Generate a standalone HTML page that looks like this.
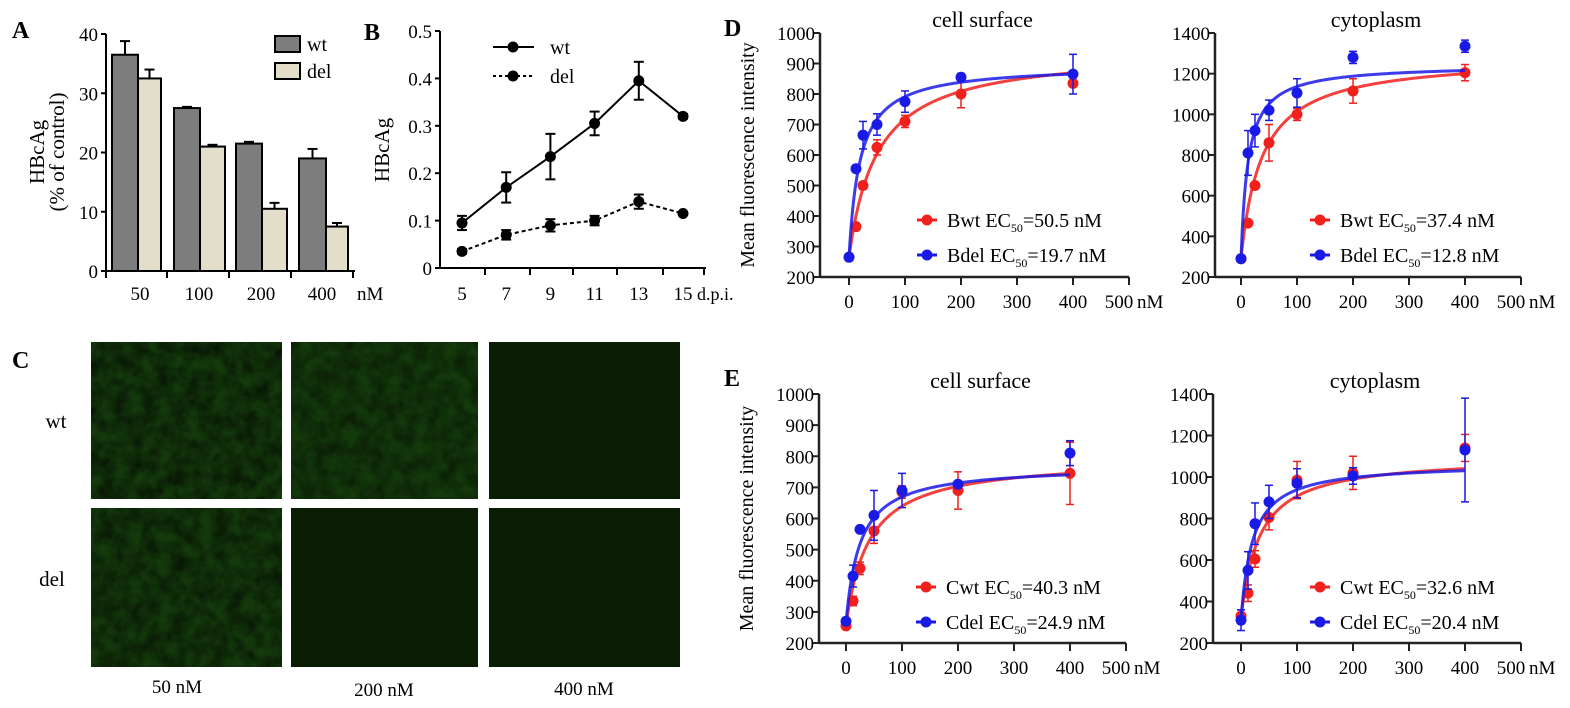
<!DOCTYPE html>
<html><head><meta charset="utf-8">
<style>
html,body{margin:0;padding:0;background:#fff;}
svg{display:block;font-family:"Liberation Serif",serif;}
</style></head>
<body>
<svg id="s" width="1570" height="708" viewBox="0 0 1570 708" xmlns="http://www.w3.org/2000/svg">
<defs>
<filter id="tex" x="0" y="0" width="100%" height="100%">
<feTurbulence type="fractalNoise" baseFrequency="0.07" numOctaves="3" seed="3"/>
<feColorMatrix type="matrix" values="0 0 0 0 0  0 0 0 0 0  0 0 0 0 0  0 0 0 1.4 -0.35"/>
</filter>
</defs>
</svg>
<script>
const S=document.getElementById('s');const NS='http://www.w3.org/2000/svg';
function el(t,a,txt){const e=document.createElementNS(NS,t);for(const k in a)e.setAttribute(k,a[k]);if(txt!==undefined)e.textContent=txt;S.appendChild(e);return e;}
function line(x1,y1,x2,y2,st,w,da){el('line',{x1,y1,x2,y2,stroke:st||'#000','stroke-width':w||2,'stroke-dasharray':da||'none'});}
function text(x,y,t,o){o=o||{};const e=el('text',Object.assign({x,y,'font-size':o.fs||19,'text-anchor':o.a||'start',fill:o.f||'#000','font-weight':o.fw||'normal'},o.tr?{transform:o.tr}:{}),t);return e;}

text(12,38,'A',{fs:24,fw:'bold'});text(364,40,'B',{fs:24,fw:'bold'});
text(12,368,'C',{fs:24,fw:'bold'});text(724,36,'D',{fs:24,fw:'bold'});
text(724,386,'E',{fs:24,fw:'bold'});

(function(){
const ax=106,y0=271,y40=34;const Y=v=>y0-(y0-y40)*v/40;
line(ax,y40,ax,y0+1);line(ax,y0,355,y0);
for(let v=0;v<=40;v+=10){line(ax-5,Y(v),ax,Y(v));text(ax-8,Y(v)+7,String(v),{a:'end'});}
[106,167,229,291,353].forEach(x=>line(x,y0,x,y0+7));
const bars=[[112,138,36.5,2.3],[138,161,32.5,1.5],[174,200,27.5,0.2],[200,225,21,0.3],[236,262,21.5,0.3],[262,287,10.5,1],[299,326,19,1.6],[326,348,7.5,0.6]];
bars.forEach((b,i)=>{el('rect',{x:b[0],y:Y(b[2]),width:b[1]-b[0],height:y0-Y(b[2]),fill:i%2?'#e2dec9':'#7d7d7d',stroke:'#000','stroke-width':2});
 const cx=(b[0]+b[1])/2;line(cx,Y(b[2]),cx,Y(b[2]+b[3]));line(cx-5,Y(b[2]+b[3]),cx+5,Y(b[2]+b[3]));});
[['50',140],['100',199],['200',261],['400',322]].forEach(t=>text(t[1],300,t[0],{a:'middle'}));
text(357,300,'nM');
el('rect',{x:275,y:36,width:25,height:16,fill:'#7d7d7d',stroke:'#000','stroke-width':2});
el('rect',{x:275,y:63,width:25,height:16,fill:'#e2dec9',stroke:'#000','stroke-width':2});
text(307,51,'wt',{fs:20});text(307,78,'del',{fs:20});
text(44,152,'HBcAg',{a:'middle',fs:21,tr:'rotate(-90 44 152)'});
text(64,152,'(% of control)',{a:'middle',fs:21,tr:'rotate(-90 64 152)'});
})();

(function(){
const ax=440,y0=268,yt=31;const Y=v=>y0-(y0-yt)*v/0.5;const X=d=>462+(d-5)*22.1;
line(ax,yt,ax,y0+1);line(ax,y0,706,y0);
['0','0.1','0.2','0.3','0.4','0.5'].forEach((t,i)=>{const v=i*0.1;line(ax-5,Y(v),ax,Y(v));text(ax-8,Y(v)+7,t,{a:'end'});});
[485,530,573,617,663,704].forEach(x=>line(x,y0,x,y0+7));
[5,7,9,11,13,15].forEach(d=>text(X(d),300,String(d),{a:'middle'}));
text(697,300,'d.p.i.',{fs:18});
const wt=[.095,.17,.235,.305,.395,.32],we=[.015,.032,.048,.025,.04,.005];
const dl=[.035,.07,.09,.10,.14,.115],de=[.005,.01,.013,.01,.015,.003];
const ds=[5,7,9,11,13,15];
el('polyline',{points:ds.map((d,i)=>X(d)+','+Y(wt[i])).join(' '),fill:'none',stroke:'#000','stroke-width':2});
el('polyline',{points:ds.map((d,i)=>X(d)+','+Y(dl[i])).join(' '),fill:'none',stroke:'#000','stroke-width':2,'stroke-dasharray':'4,3'});
[[wt,we],[dl,de]].forEach(([v,e])=>ds.forEach((d,i)=>{const x=X(d);line(x,Y(v[i]-e[i]),x,Y(v[i]+e[i]));line(x-5,Y(v[i]-e[i]),x+5,Y(v[i]-e[i]));line(x-5,Y(v[i]+e[i]),x+5,Y(v[i]+e[i]));el('circle',{cx:x,cy:Y(v[i]),r:5.5,fill:'#000'});}));
line(493,47,534,47);el('circle',{cx:513,cy:47,r:5.5,fill:'#000'});
line(493,76,534,76,'#000',2,'3,3');el('circle',{cx:513,cy:76,r:5.5,fill:'#000'});
text(550,54,'wt',{fs:20});text(550,83,'del',{fs:20});
text(389,150,'HBcAg',{a:'middle',fs:21,tr:'rotate(-90 389 150)'});
})();

(function(){
const boxes=[[91,342,191,157,1],[291,342,187,157,0.8],[489,342,191,157,0],[91,508,191,159,0.95],[291,508,187,159,0],[489,508,191,159,0]];
boxes.forEach(b=>{el('rect',{x:b[0],y:b[1],width:b[2],height:b[3],fill:b[4]>0?'#143a0c':'#0b1c04'});
 if(b[4]>0){el('rect',{x:b[0],y:b[1],width:b[2],height:b[3],fill:'#3a9a1e',filter:'url(#tex)',opacity:0.7*b[4]});}});
text(56,428,'wt',{a:'middle',fs:21});text(52,586,'del',{a:'middle',fs:21});
text(177,693,'50 nM',{a:'middle'});text(384,696,'200 nM',{a:'middle'});text(584,695,'400 nM',{a:'middle'});
})();

function plot(c){
 const Y=v=>c.yb-(c.yb-c.yt)*(v-c.ymin)/(c.ymax-c.ymin);const X=v=>c.x0+(c.x5-c.x0)*v/500;
 line(c.ax,c.yt,c.ax,c.yb+1,'#222',2.5);line(c.ax,c.yb,c.x5,c.yb,'#222',2.5);
 for(let v=c.ymin;v<=c.ymax;v+=c.ys){line(c.ax-6,Y(v),c.ax,Y(v),'#222',2);text(c.ax-5,Y(v)+7,String(v),{a:'end',fs:19});}
 for(let v=0;v<=500;v+=100){line(X(v),c.yb,X(v),c.yb+8,'#222',2);text(X(v)-(v==500?10:0),c.yb+31,String(v),{a:'middle',fs:19});}
 text(X(500)+8,c.yb+31,'nM',{fs:19});
 text((c.ax+c.x5)/2+8,c.yt-6,c.title,{a:'middle',fs:22});
 if(c.ylab)text(c.ax-66,(c.yt+c.yb)/2,'Mean fluorescence intensity',{a:'middle',fs:20,tr:`rotate(-90 ${c.ax-66} ${(c.yt+c.yb)/2})`});
 const xs=[0,12.5,25,50,100,200,400];
 c.series.forEach(s=>{
  let pts=[];for(let x=0;x<=400;x+=2)pts.push(X(x)+','+Y(s.base+s.B*x/(s.ec+x)));
  el('polyline',{points:pts.join(' '),fill:'none',stroke:s.col,'stroke-width':3,opacity:0.85});
  xs.forEach((x,i)=>{const v=s.d[i],e=s.e[i];const px=X(x);
   line(px,Y(v-e),px,Y(v+e),s.col,1.5);line(px-4,Y(v-e),px+4,Y(v-e),s.col,1.5);line(px-4,Y(v+e),px+4,Y(v+e),s.col,1.5);
   el('circle',{cx:px,cy:Y(v),r:5.5,fill:s.col});});
 });
 c.series.forEach((s,i)=>{const ly=c.ly+i*35;line(c.lx-10,ly,c.lx+10,ly,s.col,3);el('circle',{cx:c.lx,cy:ly,r:5.5,fill:s.col});
  const t=text(c.lx+20,ly+7,'',{fs:20});
  const a=document.createElementNS(NS,'tspan');a.textContent=s.name+' EC';t.appendChild(a);
  const b=document.createElementNS(NS,'tspan');b.setAttribute('font-size','12');b.setAttribute('dy','5');b.textContent='50';t.appendChild(b);
  const d=document.createElementNS(NS,'tspan');d.setAttribute('dy','-5');d.textContent='='+s.ec+' nM';t.appendChild(d);});
}
const R='#f0201c',B='#1a1ae6';
plot({ax:820,x0:849,x5:1129,yt:33,yb:277,ymin:200,ymax:1000,ys:100,title:'cell surface',ylab:1,lx:927,ly:220,series:[
 {col:R,name:'Bwt',ec:50.5,base:265,B:681,d:[265,365,500,625,710,800,835],e:[8,10,12,25,20,45,10]},
 {col:B,name:'Bdel',ec:19.7,base:265,B:630,d:[265,555,665,700,775,855,865],e:[8,10,45,35,35,12,65]}]});
plot({ax:1215,x0:1241,x5:1521,yt:33,yb:277,ymin:200,ymax:1400,ys:200,title:'cytoplasm',lx:1320,ly:220,series:[
 {col:R,name:'Bwt',ec:37.4,base:290,B:995,d:[290,465,650,860,1000,1115,1205],e:[10,10,10,90,30,60,40]},
 {col:B,name:'Bdel',ec:12.8,base:290,B:955,d:[290,810,920,1020,1105,1280,1335],e:[10,110,80,50,70,30,30]}]});
plot({ax:819,x0:846,x5:1126,yt:394,yb:643,ymin:200,ymax:1000,ys:100,title:'cell surface',ylab:1,lx:926,ly:587,series:[
 {col:R,name:'Cwt',ec:40.3,base:255,B:539,d:[255,335,440,560,685,690,745],e:[10,15,20,40,20,60,100]},
 {col:B,name:'Cdel',ec:24.9,base:265,B:505,d:[270,415,565,610,690,710,810],e:[10,35,10,80,55,10,40]}]});
plot({ax:1213,x0:1241,x5:1521,yt:394,yb:643,ymin:200,ymax:1400,ys:200,title:'cytoplasm',lx:1320,ly:587,series:[
 {col:R,name:'Cwt',ec:32.6,base:320,B:779,d:[330,440,605,805,985,1020,1140],e:[30,40,40,60,90,80,65]},
 {col:B,name:'Cdel',ec:20.4,base:310,B:757,d:[310,550,775,880,970,1005,1130],e:[50,90,100,80,70,40,250]}]});
</script>
</body></html>
